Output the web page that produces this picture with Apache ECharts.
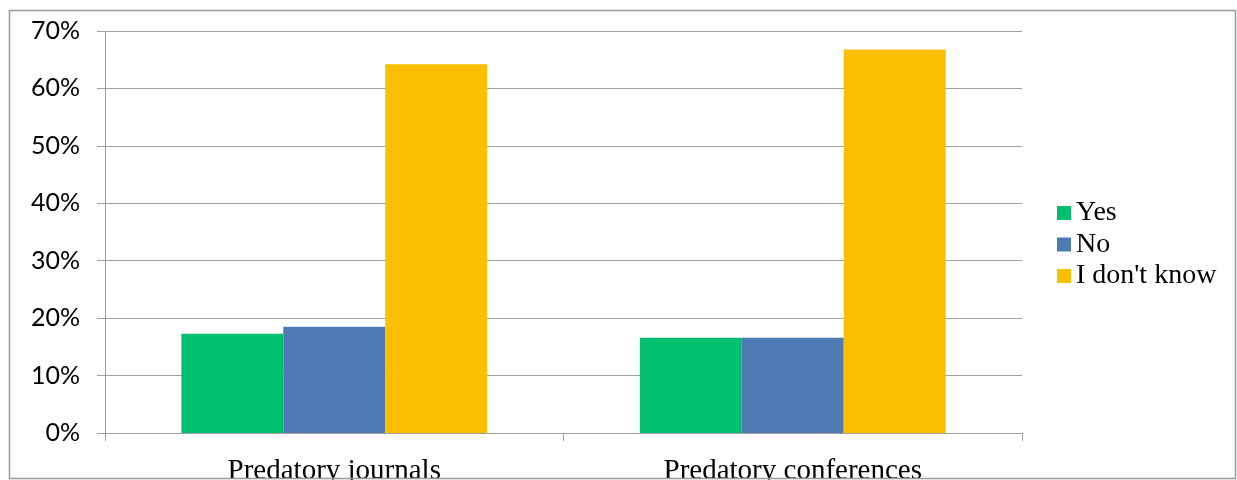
<!DOCTYPE html>
<html>
<head>
<meta charset="utf-8">
<script src="https://cdn.jsdelivr.net/npm/echarts@6/dist/echarts.min.js"></script>
<style>
html,body{margin:0;padding:0;background:#fff;}
#chart{width:1237px;height:480px;}
</style>
</head>
<body>
<div id="chart"></div>
<script>
const categories = ["Predatory journals", "Predatory conferences"];
const seriesNames = ["Yes", "No", "I don't know"];
const yesValues = [17.3, 16.6];
const noValues = [18.5, 16.6];
const dontKnowValues = [64.2, 66.8];
const colors = ["#00BF6F", "#4F7BB5", "#F9BF00"];

const chart = echarts.init(document.getElementById('chart'), null, {renderer: 'canvas'});
const valuesList = [yesValues, noValues, dontKnowValues];
chart.setOption({
  animation: false,
  backgroundColor: '#ffffff',
  grid: {left: 105, right: 215, top: 31, bottom: 47, containLabel: false, outerBoundsMode: 'none'},
  legend: {
    orient: 'vertical',
    left: 1057,
    top: 199,
    padding: 0,
    itemWidth: 14,
    itemHeight: 14,
    itemGap: 3.5,
    icon: 'rect',
    data: seriesNames,
    textStyle: {fontFamily: 'Liberation Serif', fontSize: 28, color: '#000'}
  },
  xAxis: {
    type: 'category',
    data: categories,
    axisLine: {lineStyle: {color: '#A0A0A0', width: 1}},
    axisTick: {show: true, length: 8, lineStyle: {color: '#A0A0A0'}},
    axisLabel: {fontFamily: 'Liberation Serif', fontSize: 29, color: '#000', margin: 24}
  },
  yAxis: {
    type: 'value',
    min: 0, max: 70, interval: 10,
    axisLine: {show: true, lineStyle: {color: '#A0A0A0', width: 1}},
    axisTick: {show: true, length: 8, lineStyle: {color: '#A0A0A0'}},
    splitLine: {show: true, lineStyle: {color: '#A0A0A0', width: 1}},
    axisLabel: {fontFamily: 'Lato', fontSize: 25, color: '#000', margin: 25, formatter: v => v + '%'}
  },
  series: seriesNames.map((n, i) => ({
    name: n,
    type: 'bar',
    data: valuesList[i],
    barGap: '0%',
    barCategoryGap: '33.3%',
    itemStyle: {color: colors[i]}
  })),
  graphic: [{
    type: 'rect',
    shape: {x: 9.5, y: 10.5, width: 1226, height: 468},
    style: {fill: null, stroke: '#999999', lineWidth: 1.5},
    z: 100
  }]
});
</script>
</body>
</html>
